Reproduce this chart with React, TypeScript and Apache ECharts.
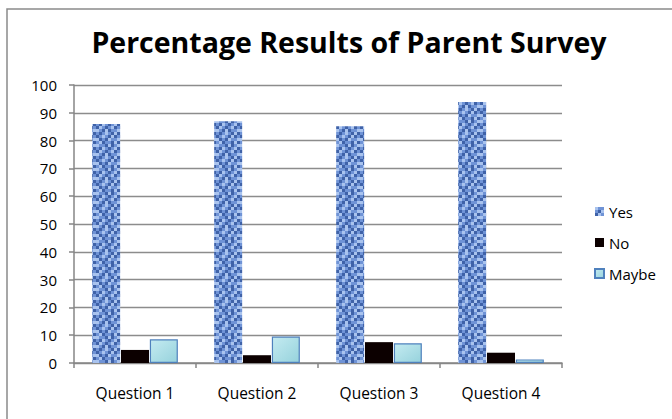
import React, { useEffect, useRef } from "react";
import * as echarts from "echarts";

const categories = ["Question 1", "Question 2", "Question 3", "Question 4"];
const seriesNames = ["Yes", "No", "Maybe"];
const yesValues = [86, 87, 85.2, 93.9];
const noValues = [4.7, 2.8, 7.5, 3.7];
const maybeValues = [8.5, 9.5, 7.1, 1.3];
const yMin = 0;
const yMax = 100;
const yInterval = 10;

// fixed weave tile for the "Yes" texture (style only)
const weaveTile = [
  "21102012",
  "10210120",
  "02101201",
  "21020112",
  "10121020",
  "01210201",
  "20102112",
  "12011020",
];
const weaveColors = ["#3F62A8", "#6F93D6", "#A9C3EE"];

function makePattern(): string {
  const size = 3;
  const c = document.createElement("canvas");
  c.width = weaveTile[0].length * size;
  c.height = weaveTile.length * size;
  const ctx = c.getContext("2d")!;
  weaveTile.forEach((row, y) => {
    row.split("").forEach((ch, x) => {
      ctx.fillStyle = weaveColors[Number(ch)];
      ctx.fillRect(x * size, y * size, size, size);
    });
  });
  return c.toDataURL();
}

export default function App() {
  const ref = useRef<HTMLDivElement>(null);
  useEffect(() => {
    if (!ref.current) return;
    const chart = echarts.init(ref.current, undefined, { renderer: "svg" });
    const pattern = makePattern();
    const font = "'Open Sans', Lato, sans-serif";
    chart.setOption({
      animation: false,
      backgroundColor: "#ffffff",
      textStyle: { fontFamily: font },
      title: {
        text: "Percentage Results of Parent Survey",
        left: 344,
        textAlign: "center",
        top: 22,
        textStyle: { fontSize: 28.5, fontWeight: "bold", color: "#000", fontFamily: font },
      },
      graphic: [
        {
          type: "rect",
          shape: { x: 7, y: 9, width: 720, height: 460 },
          style: { fill: "none", stroke: "#8a8a8a", lineWidth: 1.5 },
          silent: true,
        },
      ],
      legend: {
        orient: "vertical",
        left: 589,
        top: 199,
        itemWidth: 9,
        itemHeight: 9,
        itemGap: 16,
        icon: "rect",
        textStyle: { fontSize: 15, color: "#000", fontFamily: font },
        data: seriesNames,
      },
      grid: { left: 74, right: 110, top: 85, bottom: 56 },
      xAxis: {
        type: "category",
        data: categories,
        axisLine: { lineStyle: { color: "#868686", width: 1.5 } },
        axisTick: { show: true, length: 5, lineStyle: { color: "#868686", width: 1.5 } },
        axisLabel: { fontSize: 15.5, color: "#000", margin: 22 },
      },
      yAxis: {
        type: "value",
        min: yMin,
        max: yMax,
        interval: yInterval,
        axisLine: { show: true, lineStyle: { color: "#868686", width: 1.5 } },
        axisTick: { show: true, length: 5, lineStyle: { color: "#868686", width: 1.5 } },
        splitLine: { lineStyle: { color: "#8c8c8c", width: 1.3 } },
        axisLabel: { fontSize: 15, color: "#000", margin: 17 },
      },
      series: [
        {
          name: "Yes",
          type: "bar",
          data: yesValues,
          barWidth: 28,
          barGap: "3%",
          itemStyle: { color: { image: pattern, repeat: "repeat" } },
        },
        {
          name: "No",
          type: "bar",
          data: noValues,
          barWidth: 28,
          barGap: "3%",
          itemStyle: { color: "#0C0000" },
        },
        {
          name: "Maybe",
          type: "bar",
          data: maybeValues,
          barWidth: 28,
          barGap: "3%",
          itemStyle: {
            color: {
              type: "linear",
              x: 0,
              y: 0,
              x2: 1,
              y2: 1,
              colorStops: [
                { offset: 0, color: "#C4EBF1" },
                { offset: 1, color: "#96D2DC" },
              ],
            },
            borderColor: "#4F81BD",
            borderWidth: 1.2,
          },
        },
      ],
    });
    return () => chart.dispose();
  }, []);
  return <div ref={ref} style={{ width: 672, height: 419, position: "absolute", left: 0, top: 0 }} />;
}
